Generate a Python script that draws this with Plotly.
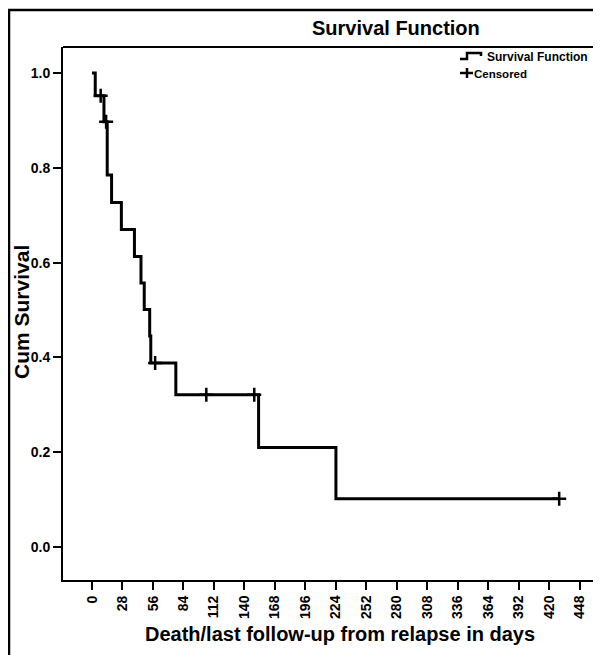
import plotly.graph_objects as go

# Kaplan-Meier step curve (start time of each step, survival level)
step_days = [0, 3, 11, 14, 18, 27, 39, 45, 48, 53, 54, 77, 153, 224, 429]
step_surv = [1.0, 0.952, 0.897, 0.785, 0.727, 0.670, 0.613, 0.557, 0.501,
             0.445, 0.388, 0.321, 0.210, 0.102, 0.102]

# Censored observations
cens_days = [8, 13, 58, 105, 149, 429]
cens_surv = [0.952, 0.897, 0.388, 0.321, 0.321, 0.102]

x_ticks = [0, 28, 56, 84, 112, 140, 168, 196, 224, 252, 280, 308, 336, 364, 392, 420, 448]
y_ticks = [0.0, 0.2, 0.4, 0.6, 0.8, 1.0]

FONT = "Liberation Sans"
OFF = 8                      # page body margin of the html page
W, H = 601 - OFF, 655 - OFF
PL, PT, PB = 63, 47, 580     # plot area edges in page pixels
L, T, R = PL - OFF, PT - OFF, 0
B = H - (PB - OFF)

pw = W - L - R
ph = H - T - B

def px_x(p):
    return (p - PL) / pw

def px_y(p):
    return (PB - p) / ph

fig = go.Figure()
fig.add_trace(go.Scatter(
    x=step_days, y=step_surv, mode="lines", line_shape="hv",
    line=dict(color="black", width=3), name="Survival Function", showlegend=False))
fig.add_trace(go.Scatter(
    x=cens_days, y=cens_surv, mode="markers",
    marker=dict(symbol="cross-thin", size=10, line=dict(color="black", width=2.5), color="black"),
    name="Censored", showlegend=False))

bold = dict(family=FONT, weight="bold", color="black")

# custom legend icons (page pixels)
step_icon = "M {} {} L {} {} L {} {} L {} {} L {} {}".format(
    px_x(460), px_y(59), px_x(467), px_y(59), px_x(467), px_y(53),
    px_x(481), px_y(53), px_x(481), px_y(56))

shapes = [
    dict(type="line", xref="paper", yref="paper", x0=0, x1=1.05, y0=1, y1=1,
         line=dict(color="black", width=2)),
    dict(type="rect", xref="paper", yref="paper", x0=px_x(9), x1=1.1,
         y0=-0.3, y1=px_y(10), line=dict(color="black", width=2.5)),
    dict(type="path", xref="paper", yref="paper", path=step_icon,
         line=dict(color="black", width=2.5)),
    dict(type="line", xref="paper", yref="paper", x0=px_x(460), x1=px_x(473),
         y0=px_y(73), y1=px_y(73), line=dict(color="black", width=2.5)),
    dict(type="line", xref="paper", yref="paper", x0=px_x(467), x1=px_x(467),
         y0=px_y(68), y1=px_y(78), line=dict(color="black", width=2.5)),
]

fig.update_layout(
    width=W, height=H,
    margin=dict(l=L, r=R, t=T, b=B),
    paper_bgcolor="white", plot_bgcolor="white",
    font=dict(family=FONT, color="black"),
    showlegend=False,
    xaxis=dict(range=[-26.6, 467.4], tickvals=x_ticks, ticktext=[str(v) for v in x_ticks],
               tickangle=-90, showgrid=False, zeroline=False,
               showline=True, linecolor="black", linewidth=2,
               ticks="outside", ticklen=8, tickwidth=2, tickcolor="black",
               tickfont=dict(size=14, **bold)),
    yaxis=dict(range=[-0.0696, 1.0549], tickvals=y_ticks,
               ticktext=["%.1f" % v for v in y_ticks],
               showgrid=False, zeroline=False,
               showline=True, linecolor="black", linewidth=2,
               ticks="outside", ticklen=8, tickwidth=2, tickcolor="black",
               tickfont=dict(size=14, **bold)),
    shapes=shapes,
    annotations=[
        dict(text="Survival Function", xref="paper", yref="paper",
             x=px_x(396), y=px_y(28), showarrow=False, xanchor="center", yanchor="middle",
             font=dict(size=20, **bold)),
        dict(text="Death/last follow-up from relapse in days", xref="paper", yref="paper",
             x=px_x(340), y=px_y(634), showarrow=False, xanchor="center", yanchor="middle",
             font=dict(size=20, **bold)),
        dict(text="Cum Survival", xref="paper", yref="paper", textangle=-90,
             x=px_x(21), y=px_y(312), showarrow=False, xanchor="center", yanchor="middle",
             font=dict(size=21, **bold)),
        dict(text="Survival Function", xref="paper", yref="paper",
             x=px_x(485), y=px_y(57), showarrow=False, xanchor="left", yanchor="middle",
             font=dict(size=12, **bold)),
        dict(text="Censored", xref="paper", yref="paper",
             x=px_x(472), y=px_y(74), showarrow=False, xanchor="left", yanchor="middle",
             font=dict(size=11.5, **bold)),
    ],
)

fig.write_html("out.html")
